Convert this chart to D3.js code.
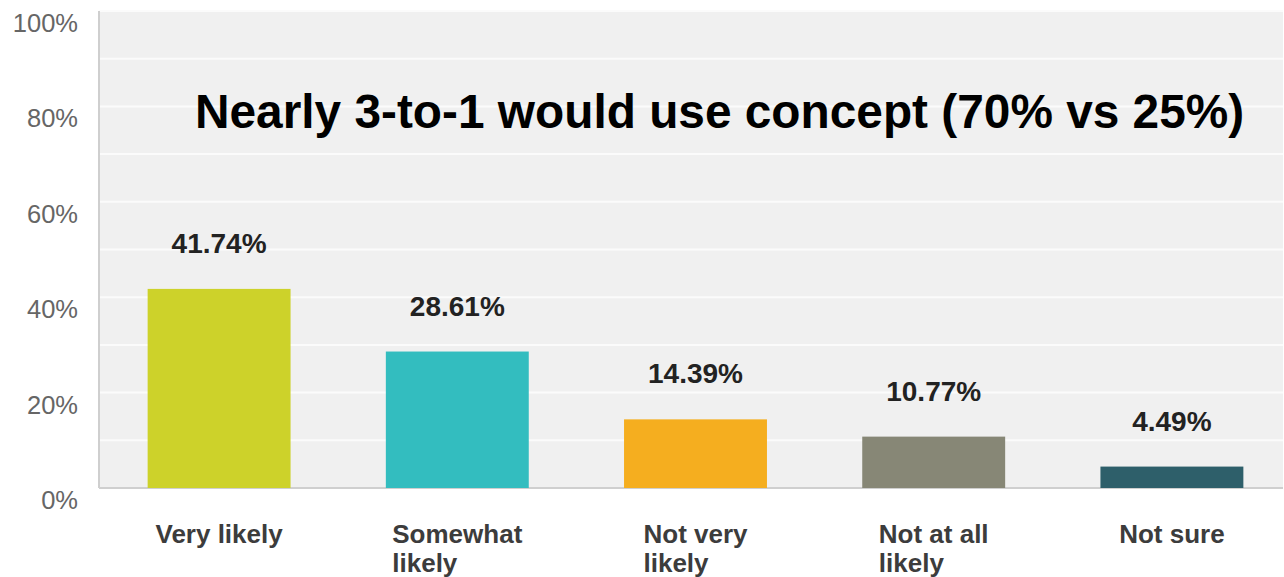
<!DOCTYPE html>
<html>
<head>
<meta charset="utf-8">
<script src="https://cdn.jsdelivr.net/npm/d3@7"></script>
<style>
  body { margin: 0; background: #fff; }
  text { font-family: "Liberation Sans", Arial, Helvetica, sans-serif; }
</style>
</head>
<body>
<script>
const categories = ["Very likely", "Somewhat\nlikely", "Not very\nlikely", "Not at all\nlikely", "Not sure"];
const values = [41.74, 28.61, 14.39, 10.77, 4.49];
const colors = ["#cdd22a", "#33bdbf", "#f5ae1f", "#878776", "#2e5f6a"];
const yTicks = [0, 20, 40, 60, 80, 100];
const gridTicks = [10, 20, 30, 40, 50, 60, 70, 80, 90, 100];
const title = "Nearly 3-to-1 would use concept (70% vs 25%)";

const width = 1284, height = 577;
const plotLeft = 99, plotRight = 1283, plotTop = 11, plotBottom = 488;

const svg = d3.select("body")
  .append("svg")
  .attr("width", width)
  .attr("height", height);

const x = d3.scaleBand()
  .domain(categories)
  .range([100, 1291])
  .paddingInner(0.4)
  .paddingOuter(0.2);

const y = d3.scaleLinear()
  .domain([0, 100])
  .range([plotBottom, plotTop]);

// fond du graphique
svg.append("rect")
  .attr("x", plotLeft)
  .attr("y", plotTop)
  .attr("width", plotRight - plotLeft)
  .attr("height", plotBottom - plotTop)
  .attr("fill", "#f0f0f0");

// lignes de grille blanches
svg.selectAll("line.grid")
  .data(gridTicks)
  .enter()
  .append("line")
  .attr("class", "grid")
  .attr("x1", plotLeft)
  .attr("x2", plotRight)
  .attr("y1", (d) => y(d))
  .attr("y2", (d) => y(d))
  .attr("stroke", "#fbfbfb")
  .attr("stroke-width", 2);

// axes
svg.append("line")
  .attr("x1", plotLeft).attr("x2", plotLeft)
  .attr("y1", plotTop).attr("y2", plotBottom)
  .attr("stroke", "#cfcfcf").attr("stroke-width", 2);

svg.append("line")
  .attr("x1", plotLeft).attr("x2", plotRight)
  .attr("y1", plotBottom).attr("y2", plotBottom)
  .attr("stroke", "#cfcfcf").attr("stroke-width", 2);

// étiquettes de l'axe y
svg.selectAll("text.ytick")
  .data(yTicks)
  .enter()
  .append("text")
  .attr("class", "ytick")
  .attr("x", 78)
  .attr("y", (d) => y(d) + 21)
  .attr("text-anchor", "end")
  .attr("font-size", 25.5)
  .attr("fill", "#666")
  .text((d) => d + "%");

// barres
svg.selectAll("rect.bar")
  .data(values)
  .enter()
  .append("rect")
  .attr("class", "bar")
  .attr("x", (d, i) => x(categories[i]))
  .attr("y", (d) => y(d))
  .attr("width", x.bandwidth())
  .attr("height", (d) => plotBottom - y(d))
  .attr("fill", (d, i) => colors[i]);

// valeurs au-dessus des barres
svg.selectAll("text.value")
  .data(values)
  .enter()
  .append("text")
  .attr("class", "value")
  .attr("x", (d, i) => x(categories[i]) + x.bandwidth() / 2)
  .attr("y", (d) => y(d) - 36)
  .attr("text-anchor", "middle")
  .attr("font-size", 28)
  .attr("font-weight", "bold")
  .attr("fill", "#222")
  .text((d) => d.toFixed(2) + "%");

// catégories : bloc centré, lignes alignées à gauche
const cats = svg.selectAll("text.cat")
  .data(categories)
  .enter()
  .append("text")
  .attr("class", "cat")
  .attr("y", 543)
  .attr("font-size", 26)
  .attr("font-weight", "bold")
  .attr("fill", "#3c3c3c");

cats.each(function (d) {
  const t = d3.select(this);
  const lines = d.split("\n");
  const spans = lines.map((line, j) =>
    t.append("tspan").attr("dy", j === 0 ? 0 : 29).text(line)
  );
  const w = d3.max(spans, (s) => s.node().getComputedTextLength());
  const left = x(d) + x.bandwidth() / 2 - w / 2;
  spans.forEach((s) => s.attr("x", left));
});

// titre
svg.append("text")
  .attr("x", 195)
  .attr("y", 128)
  .attr("font-size", 47.8)
  .attr("font-weight", "bold")
  .attr("fill", "#000")
  .text(title);
</script>
</body>
</html>
